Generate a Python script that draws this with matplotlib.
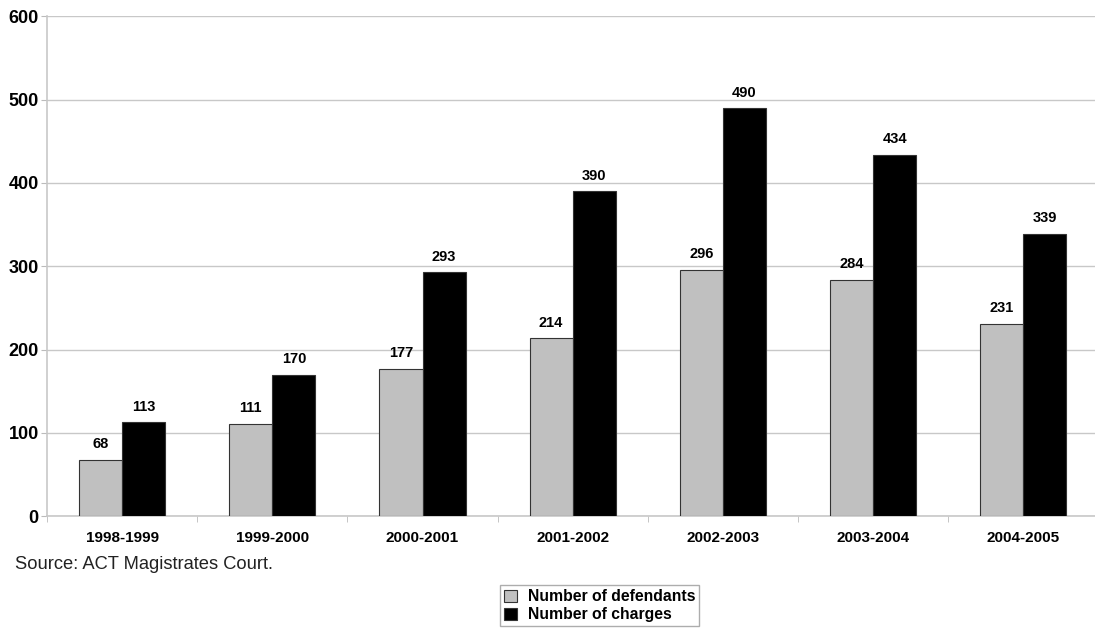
import matplotlib.pyplot as plt
import numpy as np

plt.rcParams['font.family'] = ['Liberation Sans', 'DejaVu Sans']

years = ['1998-1999', '1999-2000', '2000-2001', '2001-2002',
         '2002-2003', '2003-2004', '2004-2005']
defendants = [68, 111, 177, 214, 296, 284, 231]
charges = [113, 170, 293, 390, 490, 434, 339]

fig = plt.figure(figsize=(10.95, 6.28), dpi=100)
ax = fig.add_axes([0.043, 0.178, 0.96, 0.796])

x = np.arange(len(years))
w = 0.287
b1 = ax.bar(x - w / 2, defendants, w, color='#c0c0c0', edgecolor='#333333',
            linewidth=0.8, label='Number of defendants', zorder=3)
b2 = ax.bar(x + w / 2, charges, w, color='black', edgecolor='#333333',
            linewidth=0.8, label='Number of charges', zorder=3)

for bars, vals in ((b1, defendants), (b2, charges)):
    for r, v in zip(bars, vals):
        ax.text(r.get_x() + r.get_width() / 2, v + 10, str(v),
                ha='center', va='bottom', fontsize=10.5, fontweight='bold')

ax.set_xlim(-0.5, 6.5)
ax.set_ylim(0, 600)
ax.set_yticks(range(0, 601, 100))
ax.set_xticks(x)
ax.set_xticklabels(years, fontsize=11, fontweight='bold')
ax.set_xticks(np.arange(-0.5, 7, 1), minor=True)
ax.tick_params(axis='x', which='major', length=0, pad=11)
ax.tick_params(axis='x', which='minor', length=4, color='#bbbbbb')
ax.tick_params(axis='y', length=4, color='#bbbbbb', labelsize=13, pad=2)
for lab in ax.get_yticklabels():
    lab.set_fontweight('bold')

ax.yaxis.grid(True, color='#c8c8c8', linewidth=1, zorder=0)
for s in ('top', 'right'):
    ax.spines[s].set_visible(False)
for s in ('left', 'bottom'):
    ax.spines[s].set_color('#c8c8c8')
    ax.spines[s].set_linewidth(1.2)

fig.text(0.014, 0.094, 'Source: ACT Magistrates Court.', fontsize=13.2,
         color='#222222')

leg = fig.legend(loc='upper left', bbox_to_anchor=(0.457, 0.068),
                 prop={'weight': 'bold', 'size': 11.3}, frameon=True,
                 fancybox=False, edgecolor='#999999', handlelength=0.8,
                 handleheight=0.8, handletextpad=0.7, borderpad=0.25,
                 labelspacing=0.2, borderaxespad=0)
leg.get_frame().set_linewidth(1)

fig.savefig('out.png', dpi=100)
